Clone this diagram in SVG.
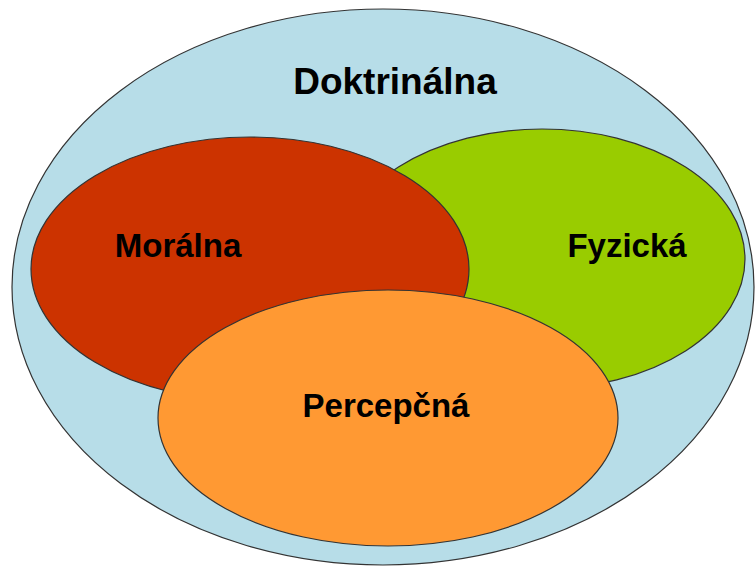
<svg xmlns="http://www.w3.org/2000/svg" width="755" height="567" viewBox="0 0 755 567">
<style>
.e{stroke:#333;stroke-width:1.2}
.t{font-family:"Liberation Sans",Arial,sans-serif;font-weight:bold;fill:#000;text-anchor:middle}
</style>
<rect width="755" height="567" fill="#fff"/>
<g id="doktrinalna">
<ellipse class="e" cx="383" cy="287" rx="371" ry="278" fill="#b7dde8"/>
<text class="t" x="395" y="94" font-size="37">Doktrinálna</text>
</g>
<g id="fyzicka">
<ellipse class="e" cx="542" cy="259" rx="203" ry="130" fill="#99cc00"/>
<text class="t" x="627" y="257" font-size="33">Fyzická</text>
</g>
<g id="moralna">
<ellipse class="e" cx="250" cy="269" rx="219" ry="132" fill="#cc3300"/>
<text class="t" x="178" y="257" font-size="33">Morálna</text>
</g>
<g id="percepcna">
<ellipse class="e" cx="388" cy="418" rx="230" ry="128" fill="#ff9933"/>
<text class="t" x="386" y="417" font-size="33">Percepčná</text>
</g>
<g id="connectors"/>
</svg>
